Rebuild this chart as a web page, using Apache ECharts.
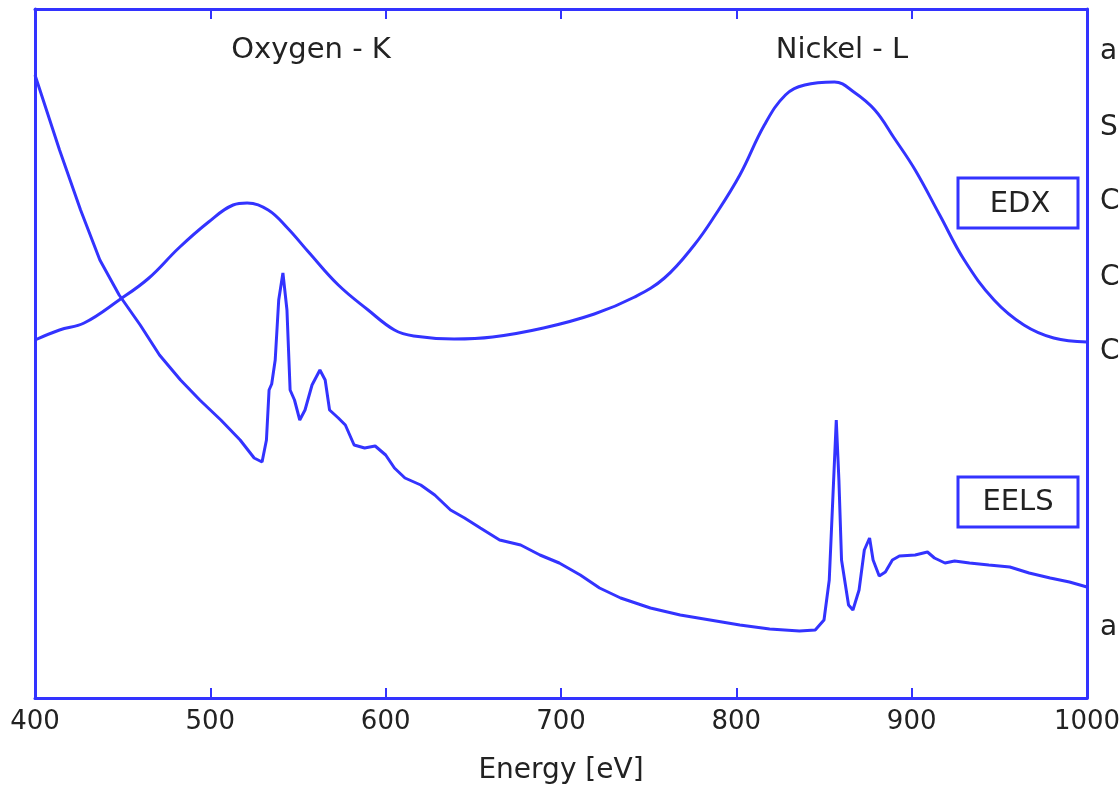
<!DOCTYPE html>
<html>
<head>
<meta charset="utf-8">
<script src="https://cdn.jsdelivr.net/npm/echarts@6/dist/echarts.min.js"></script>
<style>
  html, body { margin: 0; padding: 0; background: #fff; }
  #chart { width: 1119px; height: 796px; }
</style>
</head>
<body>
<div id="chart"></div>
<script>
// energy axis ticks
const xTicks = [400, 500, 600, 700, 800, 900, 1000];

// EDX spectrum (energy eV, intensity arb. units)
const edxEnergy = [400, 414, 428, 448, 465, 482, 499, 513, 521, 533, 544, 556, 573, 590, 605, 616, 639, 661, 690, 719, 742, 759, 776, 788, 802, 816, 828, 839, 856, 867, 879, 890, 902, 916, 930, 947, 964, 981, 1000];
const edxValue = [358, 368, 375, 398, 420, 450, 476, 493, 495, 488, 470, 446, 413, 388, 368, 362, 359, 361, 370, 384, 401, 420, 453, 483, 523, 573, 603, 613, 616, 606, 588, 560, 528, 483, 438, 398, 373, 360, 356];

// EELS spectrum
const eelsEnergy = [400, 414, 426, 437, 448, 460, 471, 483, 494, 506, 517, 525, 529.5, 532, 533.5, 535, 537, 539, 541.4, 543.7, 545.5, 548, 551, 554, 558, 562.5, 565.5, 568, 573, 577, 582, 588, 594, 600, 605, 611, 620, 628, 637, 645, 654, 665, 677, 688, 699, 711, 722, 734, 751, 768, 785, 802, 819, 836, 845, 850, 853, 855, 857, 858.5, 860, 864, 866.5, 870, 873, 876, 878, 881.5, 885, 889, 893, 902, 909, 913, 919, 924.5, 933, 944, 956, 967, 979, 990, 1000];
const eelsValue = [623, 548, 488, 438, 403, 373, 343, 318, 298, 278, 258, 240, 236, 258, 308, 314, 338, 398, 425, 388, 308, 298, 278, 288, 313, 328, 318, 288, 280, 273, 253, 250, 252, 243, 230, 220, 213, 203, 188, 180, 170, 158, 153, 143, 135, 123, 110, 100, 90, 83, 78, 73, 69, 67, 68, 78, 118, 198, 278, 218, 138, 93, 88, 108, 148, 160, 138, 122, 126, 138, 142, 143, 146, 140, 135, 137, 135, 133, 131, 125, 120, 116, 111];

const blue = '#3333ff';
const font = 'DejaVu Sans, Verdana, sans-serif';

function pairs(xs, ys) {
  return xs.map((x, i) => [x, ys[i]]);
}

const chart = echarts.init(document.getElementById('chart'));

const option = {
  animation: false,
  textStyle: { fontFamily: font },
  grid: { left: 35, right: 32, top: 9, bottom: 98, containLabel: false, outerBoundsMode: 'none' },
  xAxis: [
    {
      type: 'value',
      min: xTicks[0],
      max: xTicks[xTicks.length - 1],
      interval: 100,
      position: 'bottom',
      name: 'Energy [eV]',
      nameLocation: 'middle',
      nameGap: 59,
      nameTextStyle: { fontSize: 28, color: '#222', fontFamily: font },
      axisLine: { lineStyle: { color: blue, width: 3 } },
      axisTick: { show: true, inside: true, length: 10, lineStyle: { color: blue, width: 2 } },
      axisLabel: { fontSize: 26, color: '#222', margin: 11, fontFamily: font, formatter: v => String(v) },
      splitLine: { show: false }
    },
    {
      type: 'value',
      min: xTicks[0],
      max: xTicks[xTicks.length - 1],
      interval: 100,
      position: 'top',
      axisLine: { show: true, onZero: false, lineStyle: { color: blue, width: 3 } },
      axisTick: { show: true, inside: true, length: 10, lineStyle: { color: blue, width: 2 } },
      axisLabel: { show: false },
      splitLine: { show: false }
    }
  ],
  yAxis: [
    {
      type: 'value',
      min: 0,
      max: 689,
      position: 'left',
      axisLine: { show: true, lineStyle: { color: blue, width: 3 } },
      axisTick: { show: false },
      axisLabel: { show: false },
      splitLine: { show: false }
    },
    {
      type: 'value',
      min: 0,
      max: 689,
      position: 'right',
      axisLine: { show: true, lineStyle: { color: blue, width: 3 } },
      axisTick: { show: false },
      axisLabel: { show: false },
      splitLine: { show: false }
    }
  ],
  series: [
    {
      name: 'EDX',
      type: 'line',
      data: pairs(edxEnergy, edxValue),
      smooth: 0.4,
      showSymbol: false,
      lineStyle: { color: blue, width: 3 }
    },
    {
      name: 'EELS',
      type: 'line',
      data: pairs(eelsEnergy, eelsValue),
      showSymbol: false,
      lineStyle: { color: blue, width: 3 }
    }
  ],
  graphic: [
    { type: 'text', x: 311, y: 50, style: { text: 'Oxygen - K', fontSize: 29, fill: '#222', align: 'center', verticalAlign: 'middle', fontFamily: font } },
    { type: 'text', x: 842, y: 50, style: { text: 'Nickel - L', fontSize: 29, fill: '#222', align: 'center', verticalAlign: 'middle', fontFamily: font } },
    { type: 'rect', shape: { x: 958, y: 178, width: 120, height: 50 }, style: { fill: '#fff', stroke: blue, lineWidth: 3 } },
    { type: 'text', x: 1020, y: 204, style: { text: 'EDX', fontSize: 29, fill: '#222', align: 'center', verticalAlign: 'middle', fontFamily: font } },
    { type: 'rect', shape: { x: 958, y: 477, width: 120, height: 50 }, style: { fill: '#fff', stroke: blue, lineWidth: 3 } },
    { type: 'text', x: 1018, y: 502, style: { text: 'EELS', fontSize: 29, fill: '#222', align: 'center', verticalAlign: 'middle', fontFamily: font } },
    // clipped letters of neighbouring text at the right edge
    { type: 'text', x: 1100, y: 52, style: { text: 'a', fontSize: 28, fill: '#222', verticalAlign: 'middle', fontFamily: font } },
    { type: 'text', x: 1100, y: 128, style: { text: 'S', fontSize: 28, fill: '#222', verticalAlign: 'middle', fontFamily: font } },
    { type: 'text', x: 1100, y: 202, style: { text: 'C', fontSize: 28, fill: '#222', verticalAlign: 'middle', fontFamily: font } },
    { type: 'text', x: 1100, y: 278, style: { text: 'C', fontSize: 28, fill: '#222', verticalAlign: 'middle', fontFamily: font } },
    { type: 'text', x: 1100, y: 352, style: { text: 'C', fontSize: 28, fill: '#222', verticalAlign: 'middle', fontFamily: font } },
    { type: 'text', x: 1100, y: 628, style: { text: 'a', fontSize: 28, fill: '#222', verticalAlign: 'middle', fontFamily: font } }
  ]
};

chart.setOption(option);
</script>
</body>
</html>
